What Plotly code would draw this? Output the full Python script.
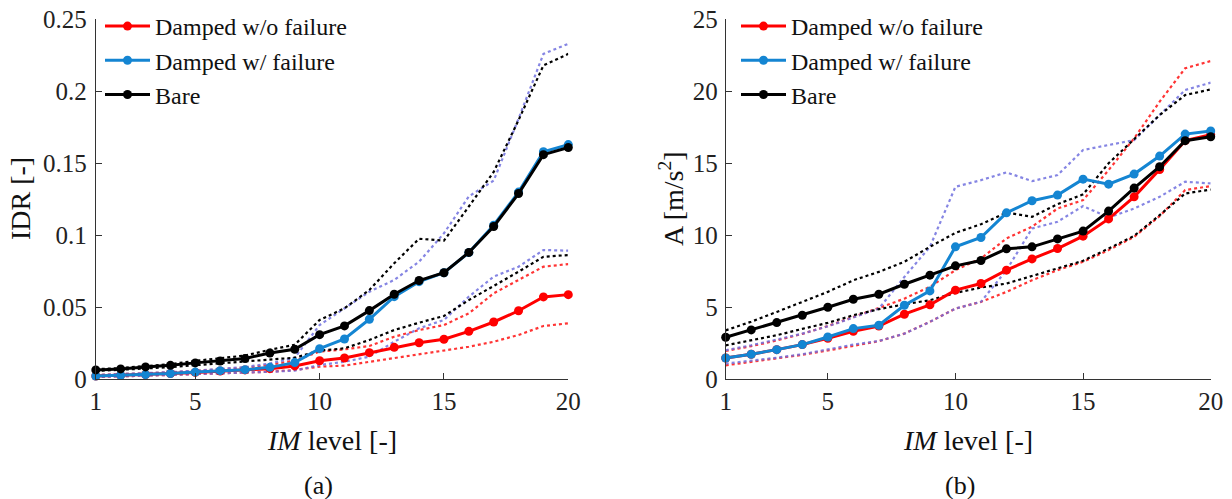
import plotly.graph_objects as go

im_levels = list(range(1, 21))

# ---------- (a) IDR ----------
idr_damped_wo = [0.0023, 0.0028, 0.0032, 0.0040, 0.0048, 0.0057, 0.0065, 0.0074, 0.0093, 0.0129,
                 0.0148, 0.0185, 0.0222, 0.0254, 0.0278, 0.0333, 0.0398, 0.0476, 0.0572, 0.0588]
idr_damped_w = [0.0023, 0.0028, 0.0032, 0.0040, 0.0050, 0.0060, 0.0067, 0.0083, 0.0116, 0.0213,
                0.0280, 0.0417, 0.0574, 0.0678, 0.0740, 0.0880, 0.1070, 0.1300, 0.1580, 0.1630]
idr_bare = [0.0065, 0.0072, 0.0086, 0.0097, 0.0114, 0.0127, 0.0144, 0.0183, 0.0209, 0.0310,
            0.0371, 0.0477, 0.0591, 0.0686, 0.0740, 0.0881, 0.1061, 0.1290, 0.1560, 0.1610]

idr_bare_up = [0.0070, 0.0078, 0.0092, 0.0105, 0.0128, 0.0145, 0.0165, 0.0205, 0.0240, 0.0412,
               0.0493, 0.0620, 0.0806, 0.0976, 0.0963, 0.1200, 0.1440, 0.1800, 0.2180, 0.2260]
idr_bare_lo = [0.0058, 0.0065, 0.0075, 0.0085, 0.0098, 0.0110, 0.0125, 0.0138, 0.0150, 0.0199,
               0.0215, 0.0273, 0.0342, 0.0393, 0.0440, 0.0550, 0.0648, 0.0747, 0.0851, 0.0863]
idr_w_up = [0.0030, 0.0035, 0.0040, 0.0050, 0.0060, 0.0070, 0.0085, 0.0110, 0.0150, 0.0377,
            0.0490, 0.0608, 0.0690, 0.0817, 0.1014, 0.1270, 0.1380, 0.1810, 0.2260, 0.2330]
idr_w_lo = [0.0015, 0.0020, 0.0024, 0.0030, 0.0035, 0.0040, 0.0045, 0.0052, 0.0060, 0.0099,
            0.0122, 0.0157, 0.0261, 0.0354, 0.0412, 0.0574, 0.0713, 0.0782, 0.0898, 0.0893]
idr_wo_up = [0.0030, 0.0035, 0.0040, 0.0048, 0.0058, 0.0068, 0.0080, 0.0100, 0.0130, 0.0192,
             0.0208, 0.0231, 0.0296, 0.0342, 0.0377, 0.0458, 0.0597, 0.0690, 0.0782, 0.0800]
idr_wo_lo = [0.0015, 0.0020, 0.0024, 0.0030, 0.0035, 0.0040, 0.0045, 0.0052, 0.0065, 0.0088,
             0.0095, 0.0122, 0.0146, 0.0176, 0.0203, 0.0226, 0.0261, 0.0308, 0.0370, 0.0389]

# ---------- (b) Acceleration ----------
acc_damped_wo = [1.48, 1.74, 2.06, 2.41, 2.85, 3.34, 3.70, 4.52, 5.17, 6.19,
                 6.65, 7.58, 8.36, 9.08, 9.94, 11.14, 12.67, 14.57, 16.57, 16.98]
acc_damped_w = [1.48, 1.74, 2.06, 2.41, 2.94, 3.52, 3.75, 5.14, 6.14, 9.20,
                9.85, 11.56, 12.40, 12.79, 13.90, 13.55, 14.25, 15.50, 17.03, 17.24]
acc_bare = [2.92, 3.43, 3.94, 4.45, 5.00, 5.56, 5.91, 6.60, 7.23, 7.88,
            8.25, 9.06, 9.20, 9.75, 10.29, 11.68, 13.28, 14.76, 16.57, 16.84]

acc_bare_up = [3.40, 4.00, 4.68, 5.38, 6.07, 6.88, 7.46, 8.16, 9.20, 10.17,
               10.77, 11.58, 11.28, 12.16, 12.84, 15.00, 16.66, 18.35, 19.74, 20.13]
acc_bare_lo = [2.36, 2.70, 3.06, 3.50, 3.92, 4.45, 4.87, 5.21, 5.49, 6.00,
               6.37, 6.65, 7.16, 7.69, 8.23, 9.08, 9.96, 11.40, 12.90, 13.18]
acc_wo_up = [1.97, 2.30, 2.70, 3.15, 3.70, 4.30, 4.95, 5.60, 6.42, 7.58,
             8.39, 9.78, 10.59, 11.86, 12.44, 14.53, 16.73, 19.28, 21.60, 22.10]
acc_wo_lo = [0.97, 1.20, 1.45, 1.70, 2.00, 2.35, 2.65, 3.17, 3.99, 4.91,
             5.38, 6.07, 6.88, 7.58, 8.16, 8.97, 9.89, 11.33, 13.14, 13.42]
acc_w_up = [2.02, 2.36, 2.76, 3.17, 3.68, 4.29, 4.91, 7.11, 9.20, 13.37,
            13.83, 14.37, 13.76, 14.18, 15.92, 16.27, 16.61, 18.35, 20.09, 20.60]
acc_w_lo = [1.09, 1.27, 1.50, 1.74, 2.06, 2.41, 2.66, 3.17, 3.99, 4.91,
            5.38, 7.58, 10.47, 10.94, 12.03, 11.24, 11.86, 12.67, 13.72, 13.60]

x_ticks = [1, 5, 10, 15, 20]
idr_ticks = [0, 0.05, 0.1, 0.15, 0.2, 0.25]
idr_tick_text = ["0", "0.05", "0.1", "0.15", "0.2", "0.25"]
acc_ticks = [0, 5, 10, 15, 20, 25]

series_names = ["Damped w/o failure", "Damped w/ failure", "Bare"]
RED = "#ff0000"
BLUE = "#1485d2"
BLACK = "#000000"
LAV = "rgba(112,112,222,0.85)"
RED_DOT = "rgba(255,30,30,0.9)"
FONT = "Liberation Serif"

fig = go.Figure()

def dotted(x, y, color, xa, ya):
    fig.add_trace(go.Scatter(x=x, y=y, mode="lines", xaxis=xa, yaxis=ya,
                             line=dict(color=color, width=2.2, dash="dot"),
                             showlegend=False, hoverinfo="skip", cliponaxis=False))

def main(x, y, color, name, xa, ya, legend):
    fig.add_trace(go.Scatter(x=x, y=y, mode="lines+markers", name=name, xaxis=xa, yaxis=ya,
                             line=dict(color=color, width=3),
                             marker=dict(color=color, size=9),
                             legend=legend, cliponaxis=False))

# panel (a)
for up, lo, c in [(idr_wo_up, idr_wo_lo, RED_DOT),
                  (idr_w_up, idr_w_lo, LAV),
                  (idr_bare_up, idr_bare_lo, BLACK)]:
    dotted(im_levels, up, c, "x", "y")
    dotted(im_levels, lo, c, "x", "y")
main(im_levels, idr_damped_wo, RED, series_names[0], "x", "y", "legend")
main(im_levels, idr_damped_w, BLUE, series_names[1], "x", "y", "legend")
main(im_levels, idr_bare, BLACK, series_names[2], "x", "y", "legend")

# panel (b)
for up, lo, c in [(acc_wo_up, acc_wo_lo, RED_DOT),
                  (acc_w_up, acc_w_lo, LAV),
                  (acc_bare_up, acc_bare_lo, BLACK)]:
    dotted(im_levels, up, c, "x2", "y2")
    dotted(im_levels, lo, c, "x2", "y2")
main(im_levels, acc_damped_wo, RED, series_names[0], "x2", "y2", "legend2")
main(im_levels, acc_damped_w, BLUE, series_names[1], "x2", "y2", "legend2")
main(im_levels, acc_bare, BLACK, series_names[2], "x2", "y2", "legend2")

W, H = 1232, 499
axis_common = dict(showline=True, linecolor="#333333", linewidth=1, ticks="inside",
                   ticklen=6, tickcolor="#333333", showgrid=False, zeroline=False,
                   automargin=False,
                   tickfont=dict(family=FONT, size=25, color="#222222"))

legend_common = dict(xanchor="left", yanchor="top", bgcolor="rgba(0,0,0,0)",
                     font=dict(family=FONT, size=24, color="#111111"),
                     tracegroupgap=0, borderwidth=0, itemwidth=45)

fig.update_layout(
    width=W, height=H, margin=dict(l=0, r=0, t=0, b=0, pad=0, autoexpand=False),
    plot_bgcolor="white", paper_bgcolor="white",
    font=dict(family=FONT, color="#111111"),
    xaxis=dict(domain=[95.8 / W, 568.3 / W], range=[1, 20], tickvals=x_ticks,
               anchor="y", **axis_common),
    yaxis=dict(domain=[(H - 379.3) / H, (H - 19.3) / H], range=[0, 0.25],
               tickvals=idr_ticks, ticktext=idr_tick_text, anchor="x",
               ticklabelstandoff=3, **axis_common),
    xaxis2=dict(domain=[725.7 / W, 1210.7 / W], range=[1, 20], tickvals=x_ticks,
                anchor="y2", **axis_common),
    yaxis2=dict(domain=[(H - 379.3) / H, (H - 19.3) / H], range=[0, 25],
                tickvals=acc_ticks, anchor="x2", ticklabelstandoff=2, **axis_common),
    legend=dict(x=100 / W, y=(H - 4) / H, **legend_common),
    legend2=dict(x=736 / W, y=(H - 4) / H, **legend_common),
)

annotations = [
    dict(text="IDR [-]", x=21 / W, y=(H - 199) / H, textangle=-90, size=28),
    dict(text="A [m/s<sup>2</sup>]", x=672 / W, y=(H - 199) / H, textangle=-90, size=28),
    dict(text="<i>IM</i> level [-]", x=332 / W, y=(H - 440) / H, size=28),
    dict(text="<i>IM</i> level [-]", x=968 / W, y=(H - 440) / H, size=28),
    dict(text="(a)", x=318 / W, y=(H - 485) / H, size=26),
    dict(text="(b)", x=960 / W, y=(H - 485) / H, size=26),
]
for a in annotations:
    size = a.pop("size")
    fig.add_annotation(xref="paper", yref="paper", showarrow=False,
                       xanchor="center", yanchor="middle",
                       font=dict(family=FONT, size=size, color="#111111"), **a)

fig.write_html("out.html", config={"displayModeBar": False},
               post_script="document.body.style.margin='0';document.body.style.overflow='hidden';")
